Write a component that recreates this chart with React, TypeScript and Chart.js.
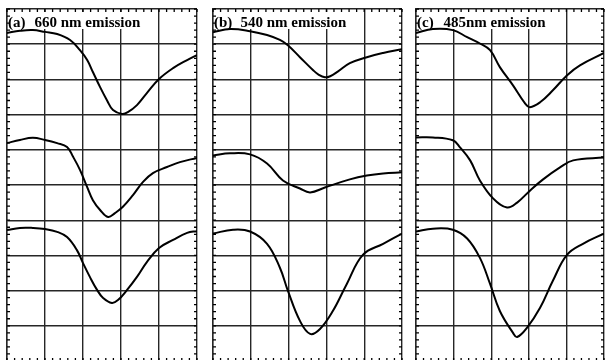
import { useEffect, useRef } from 'react';
import { Chart, registerables } from 'chart.js';

Chart.register(...registerables);

// Screen divisions of each oscilloscope panel
const X_DIVS = 5;
const Y_DIVS = 10;
const MINOR_PER_DIV = 5;

const panelTags = ['(a)', '(b)', '(c)'];
const panelTitles = ['660 nm emission', '540 nm emission', '485nm emission'];

// (a) 660 nm emission — time (div) / signal (div) for the three traces
const aTopT = [0, 0.34, 0.68, 1.0, 1.32, 1.66, 1.92, 2.11, 2.26, 2.45, 2.63, 2.79, 3.03, 3.18, 3.42, 3.68, 4.0, 4.37, 4.74, 5.0];
const aTopV = [9.32, 9.38, 9.4, 9.35, 9.29, 9.12, 8.83, 8.55, 8.21, 7.78, 7.41, 7.13, 7.02, 7.07, 7.27, 7.61, 8.01, 8.32, 8.55, 8.69];
const aMidT = [0, 0.34, 0.68, 1.0, 1.32, 1.58, 1.74, 1.92, 2.11, 2.26, 2.45, 2.66, 2.84, 3.05, 3.32, 3.58, 3.84, 4.21, 4.55, 5.0];
const aMidV = [6.19, 6.28, 6.34, 6.28, 6.19, 6.08, 5.8, 5.43, 4.94, 4.57, 4.29, 4.09, 4.2, 4.38, 4.72, 5.09, 5.34, 5.51, 5.65, 5.77];
const aLowT = [0, 0.34, 0.68, 1.0, 1.32, 1.58, 1.84, 2.0, 2.18, 2.37, 2.53, 2.76, 2.92, 3.16, 3.42, 3.68, 4.0, 4.37, 4.74, 5.0];
const aLowV = [3.72, 3.78, 3.78, 3.75, 3.67, 3.52, 3.15, 2.78, 2.39, 2.02, 1.79, 1.65, 1.73, 2.02, 2.39, 2.81, 3.21, 3.44, 3.64, 3.69];

// (b) 540 nm emission
const bTopT = [0, 0.45, 0.98, 1.43, 1.77, 1.98, 2.3, 2.65, 2.8, 2.96, 3.1, 3.3, 3.62, 4.07, 4.5, 5.0];
const bTopV = [9.34, 9.43, 9.37, 9.26, 9.12, 8.97, 8.63, 8.26, 8.13, 8.06, 8.09, 8.22, 8.46, 8.63, 8.75, 8.86];
const bMidT = [0, 0.45, 0.98, 1.43, 1.85, 2.3, 2.57, 2.96, 3.62, 4.07, 4.5, 5.0];
const bMidV = [5.84, 5.9, 5.87, 5.61, 5.13, 4.9, 4.79, 4.93, 5.16, 5.27, 5.33, 5.36];
const bLowT = [0, 0.53, 0.98, 1.43, 1.77, 1.98, 2.3, 2.57, 2.83, 3.17, 3.54, 3.97, 4.5, 5.0];
const bLowV = [3.62, 3.73, 3.68, 3.33, 2.65, 2.0, 1.14, 0.77, 0.91, 1.42, 2.19, 3.02, 3.33, 3.62];

// (c) 485 nm emission
const cTopT = [0, 0.45, 0.98, 1.36, 1.7, 1.97, 2.23, 2.58, 2.9, 3.03, 3.3, 3.64, 4.02, 4.36, 5.0];
const cTopV = [9.32, 9.43, 9.4, 9.2, 9.02, 8.83, 8.35, 7.83, 7.32, 7.21, 7.35, 7.69, 8.12, 8.4, 8.75];
const cMidT = [0, 0.45, 0.98, 1.17, 1.44, 1.7, 2.05, 2.42, 2.69, 3.03, 3.38, 3.83, 4.18, 5.0];
const cMidV = [6.35, 6.35, 6.27, 6.07, 5.7, 5.13, 4.62, 4.36, 4.5, 4.84, 5.16, 5.5, 5.7, 5.78];
const cLowT = [0, 0.45, 0.98, 1.36, 1.7, 1.97, 2.23, 2.58, 2.69, 2.95, 3.3, 3.64, 4.02, 4.44, 5.0];
const cLowV = [3.68, 3.76, 3.73, 3.48, 2.93, 2.19, 1.42, 0.8, 0.68, 0.94, 1.51, 2.28, 3.02, 3.33, 3.62];

const panelTraces: [number[], number[]][][] = [
  [[aTopT, aTopV], [aMidT, aMidV], [aLowT, aLowV]],
  [[bTopT, bTopV], [bMidT, bMidV], [bLowT, bLowV]],
  [[cTopT, cTopV], [cMidT, cMidV], [cLowT, cLowV]],
];

// Canvas geometry
const W = 605;
const H = 364;
const PANEL_TOP = 9;
const PANEL_BOTTOM = 361;
const panelEdges: [number, number][] = [
  [7, 197],
  [213, 402],
  [416, 604],
];

const GRID = '#262626';
const INK = '#000';

const scopeScreen = {
  id: 'scopeScreen',
  beforeDatasetsDraw(chart: any, _args: any, opts: any) {
    const { ctx, chartArea, scales } = chart;
    const { left, right, top, bottom } = chartArea;
    const xs = scales.x;
    const ys = scales.y;
    ctx.save();

    // panel caption on a white patch
    ctx.font = 'bold 15px "Liberation Serif", "Times New Roman", serif';
    const titleX = left + 27.5;
    const boxW = titleX - left + ctx.measureText(opts.title).width + 1;
    ctx.fillStyle = '#fff';
    ctx.fillRect(left + 1.5, top + 3, boxW, 17);
    ctx.fillStyle = INK;
    ctx.textBaseline = 'alphabetic';
    ctx.fillText(opts.tag, left + 1, top + 18);
    ctx.fillText(opts.title, titleX, top + 18);

    // minor graticule ticks along the frame
    ctx.strokeStyle = INK;
    ctx.lineWidth = 1.3;
    ctx.beginPath();
    for (let k = 0; k <= X_DIVS * MINOR_PER_DIV; k++) {
      const px = xs.getPixelForValue(k / MINOR_PER_DIV);
      ctx.moveTo(px, top);
      ctx.lineTo(px, top + 3);
      ctx.moveTo(px, bottom);
      ctx.lineTo(px, bottom - 3);
    }
    for (let k = 0; k <= Y_DIVS * MINOR_PER_DIV; k++) {
      const py = ys.getPixelForValue(k / MINOR_PER_DIV);
      ctx.moveTo(left, py);
      ctx.lineTo(left + 3, py);
      ctx.moveTo(right, py);
      ctx.lineTo(right - 3, py);
    }
    ctx.stroke();
    ctx.restore();
  },
};

function makeConfig(i: number): any {
  const [l, r] = panelEdges[i];
  return {
    type: 'line',
    data: {
      datasets: panelTraces[i].map(([t, v]) => ({
        data: t.map((x, k) => ({ x, y: v[k] })),
        borderColor: INK,
        borderWidth: 2,
        pointRadius: 0,
        fill: false,
        tension: 0.4,
        borderJoinStyle: 'round',
      })),
    },
    options: {
      animation: false,
      responsive: false,
      maintainAspectRatio: false,
      layout: { padding: { left: l, right: W - r, top: PANEL_TOP, bottom: H - PANEL_BOTTOM } },
      plugins: {
        legend: { display: false },
        tooltip: { enabled: false },
        scopeScreen: { tag: panelTags[i], title: panelTitles[i] },
      },
      scales: {
        x: {
          type: 'linear',
          min: 0,
          max: X_DIVS,
          ticks: { display: false, stepSize: 1 },
          grid: { color: GRID, lineWidth: 1.4, drawTicks: false },
          border: { display: true, color: GRID, width: 1.4 },
        },
        y: {
          type: 'linear',
          min: 0,
          max: Y_DIVS,
          ticks: { display: false, stepSize: 1 },
          grid: { color: GRID, lineWidth: 1.4, drawTicks: false },
          border: { display: true, color: GRID, width: 1.4 },
        },
      },
    },
    plugins: [scopeScreen],
  };
}

export default function App() {
  const refA = useRef<HTMLCanvasElement>(null);
  const refB = useRef<HTMLCanvasElement>(null);
  const refC = useRef<HTMLCanvasElement>(null);

  useEffect(() => {
    const canvases = [refA.current, refB.current, refC.current];
    const charts = canvases.map((cv, i) => new Chart(cv as HTMLCanvasElement, makeConfig(i)));
    return () => charts.forEach((c) => c.destroy());
  }, []);

  const style: any = { position: 'absolute', left: 0, top: 0, width: W, height: H };
  return (
    <div
      style={{
        position: 'absolute',
        left: 0,
        top: 0,
        width: 605,
        height: 360,
        overflow: 'hidden',
        background: '#fff',
      }}
    >
      <canvas ref={refA} width={W} height={H} style={style} />
      <canvas ref={refB} width={W} height={H} style={style} />
      <canvas ref={refC} width={W} height={H} style={style} />
    </div>
  );
}
